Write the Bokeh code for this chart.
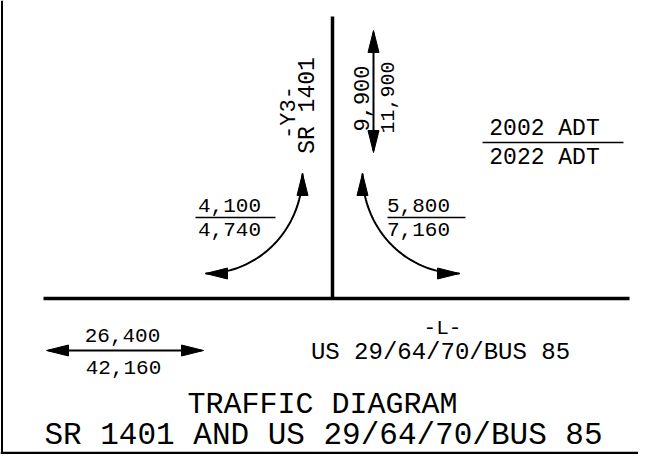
import numpy as np
from bokeh.plotting import figure
from bokeh.models import Range1d
from bokeh.embed import file_html
from bokeh.resources import INLINE
from bokeh.core.properties import value

# ---------------- data (traffic volumes) ----------------
adt_2002 = ["4,100", "5,800", "9,900", "26,400"]     # left turn, right turn, SR 1401, US 29
adt_2022 = ["4,740", "7,160", "11,900", "42,160"]
road_y_labels = ["-Y3-", "SR 1401"]
road_l_labels = ["-L-", "US 29/64/70/BUS 85"]
legend_labels = ["2002 ADT", "2022 ADT"]
title_lines = ["TRAFFIC DIAGRAM", "SR 1401 AND US 29/64/70/BUS 85"]

FONT = value("Liberation Mono")

# ---------------- layout (pixel coordinates) ----------------
W, H = 638, 454
p = figure(width=W, height=H, x_range=Range1d(0, W), y_range=Range1d(H, 0),
           output_backend="svg", toolbar_location=None, min_border=0,
           x_axis_type=None, y_axis_type=None)
p.grid.visible = False
p.outline_line_color = None
p.background_fill_color = "white"

# frame border (left and bottom)
p.line([1.5, 1.5], [0, 453], line_color="black", line_width=2)
p.line([0, W], [452.5, 452.5], line_color="black", line_width=2.5)

# roads
p.line([332, 332], [16, 298], line_color="black", line_width=3.5)
p.line([43, 629], [298, 298], line_color="black", line_width=3.5)

# curved turning arrows (quarter ellipses)
t = np.linspace(0, np.pi / 2, 60)
lx = 205 + 97 * np.cos(t); ly = 173 + 100 * np.sin(t)
rx = 459 - 97 * np.cos(t); ry = 173 + 100 * np.sin(t)
p.line(lx, ly, line_color="black", line_width=2)
p.line(rx, ry, line_color="black", line_width=2)

# straight double arrows
p.line([373, 373], [32, 150], line_color="black", line_width=2)
p.line([48, 201], [350, 350], line_color="black", line_width=2)

# arrowheads: tip + outward direction
tips_x = [373, 373, 46, 203, 302, 205, 362, 459]
tips_y = [30, 152, 350, 350, 173, 273, 173, 273]
dir_x = [0, 0, -1, 1, 0, -1, 0, 1]
dir_y = [-1, 1, 0, 0, -1, 0, -1, 0]
L, Wd = 22, 5.5
xs, ys = [], []
for tx, ty, dx, dy in zip(tips_x, tips_y, dir_x, dir_y):
    bx, by = tx - L * dx, ty - L * dy
    nx, ny = -dy, dx
    xs.append([tx, bx + Wd * nx, bx - Wd * nx])
    ys.append([ty, by + Wd * ny, by - Wd * ny])
p.patches(xs, ys, fill_color="black", line_color="black", line_width=1)

# fraction bars
p.line([195, 275], [217, 217], line_color="black", line_width=1.5)
p.line([387, 465], [217, 217], line_color="black", line_width=1.5)
p.line([482, 623], [142, 142], line_color="black", line_width=1.5)

def txt(x, y, s, size, angle=0.0):
    p.text(x=[x], y=[y], text=[s], text_font=FONT, text_font_size=f"{size}px",
           text_align="center", text_baseline="middle", text_color="black", angle=angle)

# turning volumes
txt(229, 205, adt_2002[0], 21)
txt(229, 229, adt_2022[0], 21)
txt(418, 205, adt_2002[1], 21)
txt(418, 229, adt_2022[1], 21)
# SR 1401 volumes (rotated)
txt(361, 98, adt_2002[2], 22, np.pi / 2)
txt(387, 97, adt_2022[2], 20, np.pi / 2)
# US 29 volumes
txt(122, 335, adt_2002[3], 21)
txt(123, 367, adt_2022[3], 21)

# road names
txt(289, 112, road_y_labels[0], 22, np.pi / 2)
txt(307, 105, road_y_labels[1], 23, np.pi / 2)
txt(442, 328, road_l_labels[0], 21)
txt(440, 352, road_l_labels[1], 24)

# legend
txt(544, 128, legend_labels[0], 23)
txt(544, 157, legend_labels[1], 23)

# title
txt(322, 404, title_lines[0], 30)
txt(323, 435, title_lines[1], 31)

open("out.html", "w").write(file_html(p, INLINE))
